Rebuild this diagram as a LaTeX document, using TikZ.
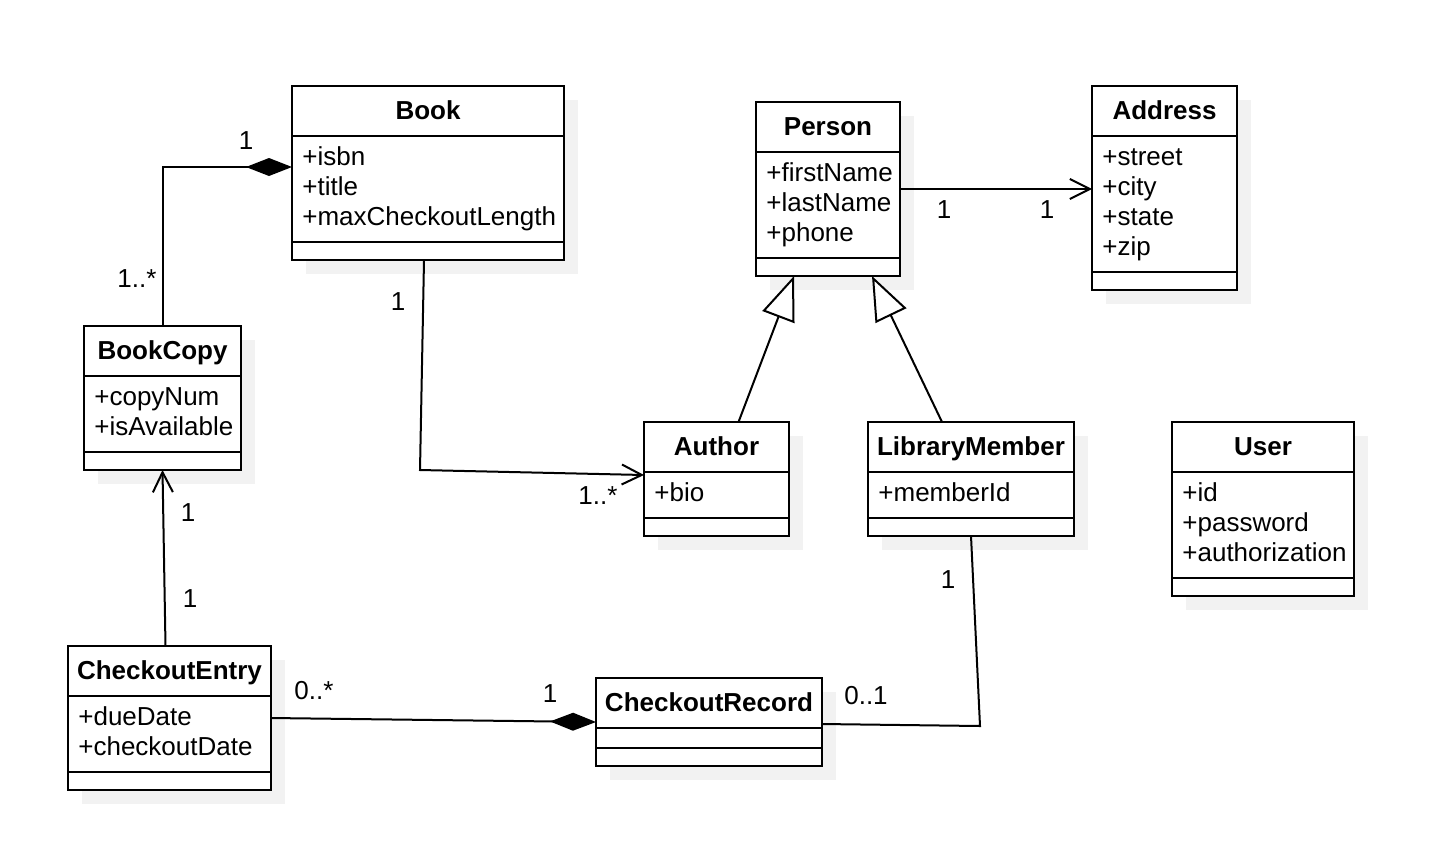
\documentclass[tikz,border=0pt]{standalone}
\usepackage{fontspec}
\setmainfont{Liberation Sans}
\usetikzlibrary{arrows.meta,calc}
\definecolor{shadowc}{HTML}{F2F2F2}
\tikzset{
  classbox/.style={draw=black, fill=white, line width=1pt, inner sep=0pt, outer sep=0pt},
  boxline/.style={draw=black, line width=1pt},
  titletext/.style={font=\bfseries\fontsize{13}{15}\selectfont, inner sep=0pt},
  attrtext/.style={font=\fontsize{13}{15}\selectfont, inner sep=0pt, align=left},
  labeltext/.style={font=\fontsize{13}{15}\selectfont, inner sep=0pt},
  conn/.style={draw=black, line width=1pt},
  comp/.style={conn, -{Diamond[length=23pt,width=9pt,fill=black]}},
  inherit/.style={conn, -{Triangle[open,length=22pt,width=17pt,fill=white]}},
  assoc/.style={conn, -{Straight Barb[length=10pt,width=10pt]}},
}
\newcommand\umlclass[8]{%
  \fill[shadowc] ({#2+14},{#3+14}) rectangle ({#2+14+#4},{#3+14+#5+#6+18});
  \node[classbox, minimum width={#4*0.5pt}, minimum height={(#5+#6+18)*0.5pt}, anchor=north west] (#1) at (#2,#3) {};
  \draw[boxline] ({#2},{#3+#5}) -- ++(#4,0);
  \draw[boxline] ({#2},{#3+#5+#6}) -- ++(#4,0);
  \node[titletext, anchor=base] (#1-title) at ({#2+#4/2},{#3+33}) {#7};
  \node[attrtext, anchor=north west] (#1-attrs) at ({#2+10},{#3+#5+5}) {\rule{0pt}{12pt}#8};
}
\begin{document}
\begin{tikzpicture}[x=0.5pt,y=-0.5pt]
\useasboundingbox (0,0) rectangle (1454,846);
\fill[white] (0,0) rectangle (1454,846);

\umlclass{book}{292}{86}{272}{50}{106}{Book}{+isbn\\+title\\+maxCheckoutLength}
\umlclass{person}{756}{102}{144}{50}{106}{Person}{+firstName\\+lastName\\+phone}
\umlclass{address}{1092}{86}{145}{50}{136}{Address}{+street\\+city\\+state\\+zip}
\umlclass{bookcopy}{84}{326}{157}{50}{76}{BookCopy}{+copyNum\\+isAvailable}
\umlclass{author}{644}{422}{145}{50}{46}{Author}{+bio}
\umlclass{lm}{868}{422}{206}{50}{46}{LibraryMember}{+memberId}
\umlclass{user}{1172}{422}{182}{50}{106}{User}{+id\\+password\\+authorization}
\umlclass{ce}{68}{646}{203}{50}{76}{CheckoutEntry}{+dueDate\\+checkoutDate}
\umlclass{cr}{596}{678}{226}{50}{20}{CheckoutRecord}{}

% connectors
\draw[comp] (bookcopy.north) |- ([yshift=3pt]book.west);
\coordinate (bacorner) at ($(book.south)+(-8,210)$);
\draw[assoc] ([xshift=-2pt]book.south) -- (bacorner) -- ([yshift=2pt]author.west);
\draw[assoc] (person.east) -- (person.east -| address.west);
\draw[inherit] ([xshift=11pt]author.north) -- ([xshift=-17pt]person.south);
\draw[inherit] ([xshift=-14.5pt]lm.north) -- ([xshift=22pt]person.south);
\draw[assoc] ([xshift=-2pt]ce.north) -- (bookcopy.south);
\draw[comp] (ce.east) -- (cr.west);
\coordinate (lmcorner) at ($(lm.south |- cr.east)+(9,4)$);
\draw[conn] (lm.south) -- (lmcorner) -- ([yshift=-1pt]cr.east);

% multiplicity labels
\node[labeltext] (m1) at (246,141) {1};
\node[labeltext] (m2) at (137,279) {1..*};
\node[labeltext] (m3) at (398,302) {1};
\node[labeltext] (m4) at (598,496) {1..*};
\node[labeltext] (m5) at (944,210) {1};
\node[labeltext] (m6) at (1047,210) {1};
\node[labeltext] (m7) at (188,513) {1};
\node[labeltext] (m8) at (190,599) {1};
\node[labeltext] (m9) at (314,691) {0..*};
\node[labeltext] (m10) at (550,694) {1};
\node[labeltext] (m11) at (948,580) {1};
\node[labeltext] (m12) at (866,696) {0..1};
\end{tikzpicture}
\end{document}
